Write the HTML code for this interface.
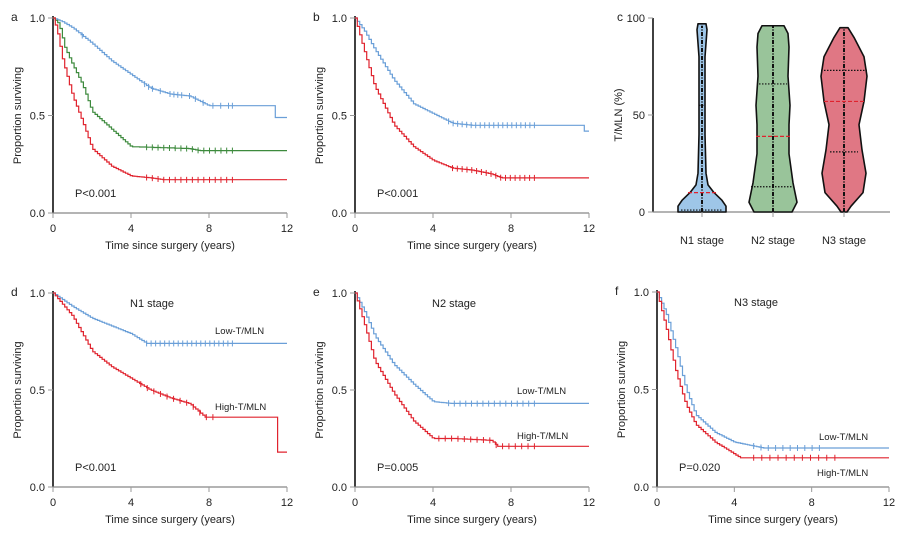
<!DOCTYPE html>
<html><head><meta charset="utf-8"><style>
body{margin:0;background:#fff}
svg text{font-family:"Liberation Sans",sans-serif;fill:#222}
</style></head><body>
<svg id="s" width="903" height="534" xmlns="http://www.w3.org/2000/svg"></svg>
<script>
const S=document.getElementById('s');let h='';
const B='#6a9fd8',G='#3d8a3d',R='#e0232e';
function panel(x0,x1,y0,y1,letter,title,pval){
  h+=`<line x1="${x0}" y1="${y0-2}" x2="${x0}" y2="${y1}" stroke="#111" stroke-width="1.6"/>`;
  h+=`<line x1="${x0}" y1="${y1}" x2="${x1}" y2="${y1}" stroke="#888" stroke-width="1.3"/>`;
  [[1,'1.0'],[0.5,'0.5'],[0,'0.0']].forEach(([v,t])=>{let y=y1-(y1-y0)*v;
    h+=`<line x1="${x0-5}" y1="${y}" x2="${x0}" y2="${y}" stroke="#999"/><text x="${x0-8}" y="${y+4}" font-size="11" text-anchor="end">${t}</text>`});
  [0,4,8,12].forEach(v=>{let x=x0+(x1-x0)*v/12;
    h+=`<line x1="${x}" y1="${y1}" x2="${x}" y2="${y1+5}" stroke="#999"/><text x="${x}" y="${y1+19}" font-size="11" text-anchor="middle">${v}</text>`});
  h+=`<text x="${(x0+x1)/2}" y="${y1+36}" font-size="11" text-anchor="middle">Time since surgery (years)</text>`;
  h+=`<text transform="translate(${x0-32},${(y0+y1)/2}) rotate(-90)" font-size="11" text-anchor="middle">Proportion surviving</text>`;
  h+=`<text x="${x0-42}" y="${y0+3}" font-size="12">${letter}</text>`;
  if(title)h+=`<text x="${x0+77}" y="${y0+14}" font-size="11">${title}</text>`;
  h+=`<text x="${x0+22}" y="${y1-16}" font-size="11">${pval}</text>`;
}
function curve(x0,x1,y0,y1,pts,col,cens){
  const X=t=>x0+(x1-x0)*t/12,Y=v=>y1-(y1-y0)*v;
  function f(t){for(let i=1;i<pts.length;i++){if(t<=pts[i][0]){let a=pts[i-1],b=pts[i];if(b[0]==a[0])return b[1];return a[1]+(b[1]-a[1])*(t-a[0])/(b[0]-a[0]);}}return pts[pts.length-1][1];}
  let d=`M${X(0)},${Y(1)}`,prev=1;
  for(let t=0.12;t<=12.001;t+=0.12){let v=f(t);if(Math.abs(v-prev)>0.001){d+=`H${X(t).toFixed(1)}V${Y(v).toFixed(1)}`;prev=v;}}
  d+=`H${X(12)}`;
  h+=`<path d="${d}" fill="none" stroke="${col}" stroke-width="1.2"/>`;
  (cens||[]).forEach(t=>{let v=f(t);h+=`<line x1="${X(t)}" y1="${Y(v)-3}" x2="${X(t)}" y2="${Y(v)+3}" stroke="${col}" stroke-width="1"/>`});
}
function rng(a,b,n){let r=[];for(let i=0;i<n;i++)r.push(a+(b-a)*i/(n-1));return r}
panel(53,287,18,213,'a','','P&lt;0.001');
curve(53,287,18,213,[[0,1],[0.5,0.98],[1,0.95],[2,0.87],[3,0.78],[4,0.71],[5,0.64],[6,0.61],[7,0.6],[8,0.55],[11.3,0.55],[11.3,0.49],[12,0.49]],B,[1.5,4.7,4.9,5.1,5.5,6,6.2,6.4,6.6,7,7.3,7.7,8.2,8.6,9,9.2]);
curve(53,287,18,213,[[0,1],[0.3,0.97],[0.6,0.85],[1,0.76],[1.5,0.66],[2,0.52],[3,0.43],[4,0.34],[7,0.33],[7.5,0.32],[12,0.32]],G,rng(4.8,9.2,16));
curve(53,287,18,213,[[0,1],[0.2,0.94],[0.5,0.78],[1,0.6],[1.5,0.47],[2,0.33],[3,0.24],[4,0.19],[5,0.18],[5.7,0.17],[12,0.17]],R,rng(4.8,9.2,16));
panel(355,589,18,213,'b','','P&lt;0.001');
curve(355,589,18,213,[[0,1],[0.5,0.93],[1,0.84],[2,0.68],[3,0.56],[4,0.51],[5,0.46],[6,0.45],[11.7,0.45],[11.7,0.42],[12,0.42]],B,rng(4.8,9.2,20));
curve(355,589,18,213,[[0,1],[0.5,0.82],[1,0.65],[2,0.45],[3,0.34],[4,0.27],[5,0.23],[6,0.22],[7,0.2],[7.5,0.18],[12,0.18]],R,rng(5,9.2,18));
panel(53,287,293,487,'d','N1 stage','P&lt;0.001');
curve(53,287,293,487,[[0,1],[1,0.93],[2,0.87],[3,0.83],[4,0.79],[4.8,0.74],[12,0.74]],B,rng(4.8,9.2,20));
curve(53,287,293,487,[[0,1],[1,0.88],[2,0.7],[3,0.62],[4,0.56],[5,0.5],[6,0.46],[7,0.43],[7.8,0.36],[11.5,0.36],[11.5,0.18],[12,0.18]],R,rng(4.5,8.2,12));
h+=`<text x="215" y="334" font-size="9.5">Low-T/MLN</text><text x="215" y="410" font-size="9.5">High-T/MLN</text>`;
panel(355,589,293,487,'e','N2 stage','P=0.005');
curve(355,589,293,487,[[0,1],[0.5,0.9],[1,0.78],[2,0.63],[3,0.53],[4,0.44],[5,0.43],[12,0.43]],B,rng(4.8,9.2,16));
curve(355,589,293,487,[[0,1],[0.5,0.83],[1,0.65],[2,0.48],[3,0.34],[4,0.25],[5,0.25],[7,0.24],[7.3,0.21],[12,0.21]],R,rng(4.3,9.2,16));
h+=`<text x="517" y="394" font-size="9.5">Low-T/MLN</text><text x="517" y="439" font-size="9.5">High-T/MLN</text>`;
panel(657,889,292,487,'f','N3 stage','P=0.020');
curve(657,889,292,487,[[0,1],[0.5,0.88],[1,0.7],[1.5,0.5],[2,0.37],[3,0.28],[4,0.23],[5,0.21],[5.5,0.2],[12,0.2]],B,rng(5,8.4,10));
curve(657,889,292,487,[[0,1],[0.5,0.8],[1,0.58],[1.5,0.42],[2,0.32],[3,0.23],[3.5,0.2],[4.3,0.15],[12,0.15]],R,rng(5,9.2,11));
h+=`<text x="819" y="440" font-size="9.5">Low-T/MLN</text><text x="817" y="476" font-size="9.5">High-T/MLN</text>`;
(function(){
 const x0=653,x1=890,y0=18,y1=212,Y=v=>y1-(y1-y0)*v/100;
 h+=`<line x1="${x0}" y1="${y0}" x2="${x0}" y2="${y1}" stroke="#111" stroke-width="1.6"/><line x1="${x0}" y1="${y1}" x2="${x1}" y2="${y1}" stroke="#888" stroke-width="1.3"/>`;
 [[100,'100'],[50,'50'],[0,'0']].forEach(([v,t])=>{h+=`<line x1="${x0-5}" y1="${Y(v)}" x2="${x0}" y2="${Y(v)}" stroke="#999"/><text x="${x0-8}" y="${Y(v)+4}" font-size="11" text-anchor="end">${t}</text>`});
 h+=`<text transform="translate(622,115) rotate(-90)" font-size="11" text-anchor="middle">T/MLN (%)</text><text x="617" y="21" font-size="12">c</text>`;
 function vio(cx,prof,fill,top,lines){
  let l=prof.map(p=>`${cx-p[1]},${Y(p[0])}`),r=prof.slice().reverse().map(p=>`${cx+p[1]},${Y(p[0])}`);
  h+=`<path d="M${l.join('L')}L${r.join('L')}Z" fill="${fill}" stroke="#111" stroke-width="1.6" stroke-linejoin="round"/>`;
  h+=`<line x1="${cx}" y1="${Y(0)}" x2="${cx}" y2="${Y(top)}" stroke="#111" stroke-width="2" stroke-dasharray="4,1.5,1,1.5"/>`;
  lines.forEach(([v,w,c,da])=>{h+=`<line x1="${cx-w}" y1="${Y(v)}" x2="${cx+w}" y2="${Y(v)}" stroke="${c}" stroke-width="1.2" stroke-dasharray="${da}"/>`});
  h+=`<line x1="${cx}" y1="${y1}" x2="${cx}" y2="${y1+5}" stroke="#999"/>`;
 }
 vio(702,[[0,24],[3,24],[6,20],[10,12],[14,6],[20,4],[40,3],[60,3],[80,3],[94,5],[97,4]],'#9ec6e8',96,[[1,21,'#111','1.5,1.5'],[10,14,'#e0232e','4,2'],[55,3,'#111','1.5,1.5']]);
 vio(773,[[0,19],[5,24],[15,20],[30,16],[45,16],[55,17],[70,15],[85,16],[92,15],[96,11]],'#99c49a',96,[[13,22,'#111','1.5,1.5'],[39,17,'#e0232e','4,2'],[66,14,'#111','1.5,1.5']]);
 vio(844,[[0,3],[3,7],[10,19],[20,22],[32,18],[45,15],[57,20],[70,23],[80,20],[90,10],[95,4]],'#e07784',95,[[31,14,'#111','1.5,1.5'],[57,20,'#e0232e','4,2'],[73,23,'#111','1.5,1.5']]);
 [[702,'N1 stage'],[773,'N2 stage'],[844,'N3 stage']].forEach(([x,t])=>h+=`<text x="${x}" y="244" font-size="11" text-anchor="middle">${t}</text>`);
})();
S.innerHTML=h;
</script>
</body></html>
